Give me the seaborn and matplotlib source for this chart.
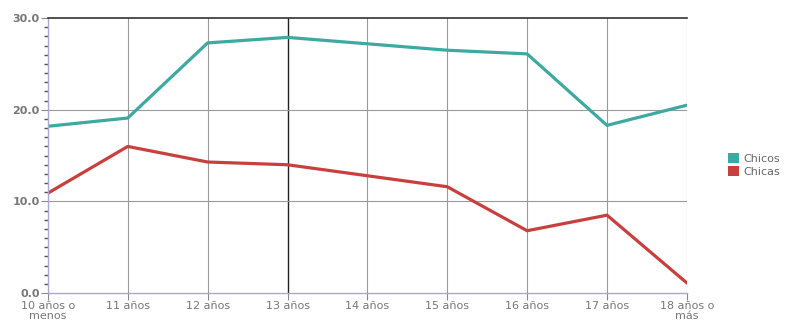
import pandas as pd
import matplotlib
matplotlib.use('Agg')
import matplotlib.pyplot as plt
from matplotlib.patches import Patch
from matplotlib.ticker import MultipleLocator
import seaborn as sns

# Data
edades = ['10 años o\nmenos', '11 años', '12 años', '13 años', '14 años',
          '15 años', '16 años', '17 años', '18 años o\nmás']
chicos = [18.2, 19.1, 27.3, 27.9, 27.2, 26.5, 26.1, 18.3, 20.5]
chicas = [10.9, 16.0, 14.3, 14.0, 12.8, 11.6, 6.8, 8.5, 1.1]
series = ['Chicos', 'Chicas']
colores = {'Chicos': '#3ea9a1', 'Chicas': '#c8403e'}

df = pd.DataFrame({
    'Edad': edades * 2,
    'Valor': chicos + chicas,
    'Grupo': ['Chicos'] * len(edades) + ['Chicas'] * len(edades),
})

sns.set_style('white')
plt.rcParams['font.family'] = ['DejaVu Sans']

fig = plt.figure(figsize=(7.85, 3.3), dpi=100)
ax = fig.add_axes([0.061, 0.112, 0.814, 0.833])

# grid lines behind data
for i in range(len(edades)):
    ax.axvline(i, color='#222222' if i == 3 else '#9a9a9a', lw=1.0 if i == 3 else 0.8, zorder=0)
for v in [10, 20]:
    ax.axhline(v, color='#9a9a9a', lw=0.8, zorder=0)

sns.lineplot(data=df, x='Edad', y='Valor', hue='Grupo', palette=colores,
             hue_order=series, linewidth=2.3, ax=ax, legend=False)

ax.set_xlim(0, len(edades) - 1)
ax.set_ylim(0, 30)
ax.set_xticks(range(len(edades)))
ax.set_xticklabels(edades, linespacing=0.95)
ax.set_yticks([0, 10, 20, 30])
ax.set_yticklabels(['0.0', '10.0', '20.0', '30.0'])
ax.yaxis.set_minor_locator(MultipleLocator(1))
ax.set_xlabel('')
ax.set_ylabel('')

ax.tick_params(axis='both', which='both', left=True, bottom=True)
ax.tick_params(axis='both', which='major', length=5, width=0.8, color='#888888',
               labelsize=8, labelcolor='#777777', pad=1)
ax.tick_params(axis='y', which='minor', length=3, width=1.0, color='#555555')
ax.tick_params(axis='x', which='minor', bottom=False)
for lbl in ax.get_yticklabels():
    lbl.set_fontweight('bold')

ax.spines['top'].set_color('#333333')
ax.spines['top'].set_linewidth(1.2)
ax.spines['left'].set_color('#a9a9d6')
ax.spines['left'].set_linewidth(1.0)
ax.spines['bottom'].set_color('#a9a9c6')
ax.spines['bottom'].set_linewidth(1.0)
ax.spines['right'].set_visible(False)

handles = [Patch(facecolor=colores[s], edgecolor='none', label=s) for s in series]
fig.legend(handles=handles, loc='center left', bbox_to_anchor=(0.915, 0.5),
           frameon=False, fontsize=8, handlelength=1.0, handleheight=1.0,
           handletextpad=0.4, labelspacing=0.25, labelcolor='#666666')

fig.savefig('out.png', dpi=100, facecolor='white')
